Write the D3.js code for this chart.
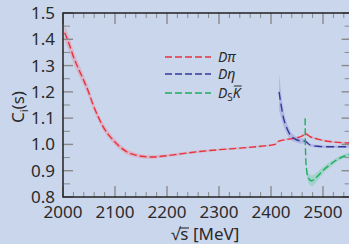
<!DOCTYPE html>
<html>
<head>
<meta charset="utf-8">
<script src="https://cdn.jsdelivr.net/npm/d3@7"></script>
<style>
  body { margin: 0; background: #cad6ec; }
  text { font-family: "Noto Sans", "Open Sans", sans-serif; fill: #2a2a2a; }
</style>
</head>
<body>
<div id="chart"></div>
<script>
// values (sqrt(s) in MeV, C_i)
const dpiE = [2003, 2010, 2020, 2030, 2040, 2050, 2058, 2068, 2077, 2087, 2097, 2110, 2122, 2135, 2150, 2170, 2190, 2230, 2263, 2300, 2340, 2380, 2405, 2411, 2414, 2430, 2449, 2460, 2466, 2475, 2490, 2513, 2555];
const dpiC = [1.425, 1.392, 1.334, 1.287, 1.243, 1.195, 1.150, 1.104, 1.068, 1.038, 1.015, 0.990, 0.973, 0.962, 0.955, 0.952, 0.955, 0.965, 0.973, 0.980, 0.986, 0.993, 0.999, 1.004, 1.012, 1.019, 1.025, 1.032, 1.041, 1.030, 1.020, 1.011, 1.005];
const dpiErr = [0.03, 0.028, 0.025, 0.022, 0.02, 0.018, 0.016, 0.015, 0.014, 0.013, 0.012, 0.011, 0.01, 0.009, 0.008, 0.007, 0.006, 0.005, 0.005, 0.004, 0.004, 0.004, 0.004, 0.004, 0.004, 0.004, 0.004, 0.005, 0.006, 0.005, 0.004, 0.004, 0.004];

const detaE = [2415.5, 2417, 2419, 2423, 2427, 2432, 2437, 2445, 2455, 2462, 2466, 2475, 2490, 2510, 2555];
const detaC = [1.20, 1.18, 1.155, 1.11, 1.08, 1.055, 1.036, 1.022, 1.014, 1.013, 1.012, 0.998, 0.993, 0.991, 0.991];
const detaErr = [0.07, 0.06, 0.05, 0.035, 0.025, 0.02, 0.016, 0.012, 0.01, 0.009, 0.008, 0.006, 0.005, 0.005, 0.005];

const dskE = [2465.6, 2466, 2467, 2469, 2472, 2478, 2490, 2501, 2515, 2526, 2555];
const dskC = [1.10, 1.02, 0.94, 0.895, 0.872, 0.862, 0.880, 0.903, 0.925, 0.941, 0.964];
const dskErr = [0.005, 0.008, 0.012, 0.016, 0.018, 0.02, 0.016, 0.012, 0.01, 0.008, 0.007];

const xTicks = [2000, 2100, 2200, 2300, 2400, 2500];
const yTicks = [0.8, 0.9, 1.0, 1.1, 1.2, 1.3, 1.4, 1.5];

const w = 349, h = 244;
const mLeft = 63, mTop = 13, mBottom = 197;

const x = d3.scaleLinear().domain([2000, 2555]).range([mLeft, mLeft + 555 * 0.52]);
const y = d3.scaleLinear().domain([0.8, 1.5]).range([mBottom, mTop]);
const xRight = x.range()[1];

const svg = d3.select("#chart").append("svg")
  .attr("width", w).attr("height", h);

svg.append("rect").attr("width", w).attr("height", h).attr("fill", "#cad6ec");

const plot = svg.append("g");
plot.append("clipPath").attr("id", "clip")
  .append("rect").attr("x", mLeft).attr("y", mTop)
  .attr("width", xRight - mLeft).attr("height", mBottom - mTop);

const series = [
  {E: dpiE, C: dpiC, err: dpiErr, color: "#e8333d", band: "#e39aae", dash: "7,3"},
  {E: detaE, C: detaC, err: detaErr, color: "#35399a", band: "#9a9fdc", dash: "8,4"},
  {E: dskE, C: dskC, err: dskErr, color: "#1fae5c", band: "#7fd0b0", dash: "7,3"}
];

const line = d3.line().x(d => x(d[0])).y(d => y(d[1])).curve(d3.curveMonotoneX);
const area = d3.area().x(d => x(d[0])).y0(d => y(d[1] - d[2])).y1(d => y(d[1] + d[2])).curve(d3.curveMonotoneX);

const g = plot.append("g").attr("clip-path", "url(#clip)");
series.forEach(s => {
  const pts = s.E.map((e, i) => [e, s.C[i], s.err[i]]);
  g.append("path").datum(pts).attr("d", area)
    .attr("fill", s.band).attr("opacity", 0.55);
});
series.forEach(s => {
  const pts = s.E.map((e, i) => [e, s.C[i]]);
  g.append("path").datum(pts).attr("d", line)
    .attr("fill", "none").attr("stroke", s.color)
    .attr("stroke-width", 1.4).attr("stroke-dasharray", s.dash);
});

// ticks (inward)
const xMinor = d3.range(2000, 2556, 20);
const yMinor = d3.range(0.8, 1.5001, 0.05);
const tickCol = "#8a8a8a";
xMinor.forEach(v => {
  const major = v % 100 === 0;
  const len = major ? 11 : 5;
  [[mBottom, -1], [mTop, 1]].forEach(([y0, dir]) => {
    plot.append("line").attr("x1", x(v)).attr("x2", x(v))
      .attr("y1", y0).attr("y2", y0 + dir * len)
      .attr("stroke", tickCol).attr("stroke-width", major ? 1.4 : 1);
  });
});
yMinor.forEach((v, i) => {
  const major = i % 2 === 0;
  const len = major ? 10 : 7;
  [[mLeft, 1], [xRight, -1]].forEach(([x0, dir]) => {
    plot.append("line").attr("y1", y(v)).attr("y2", y(v))
      .attr("x1", x0).attr("x2", x0 + dir * len)
      .attr("stroke", tickCol).attr("stroke-width", major ? 1.4 : 1);
  });
});

// frame
plot.append("rect").attr("x", mLeft).attr("y", mTop)
  .attr("width", xRight - mLeft).attr("height", mBottom - mTop)
  .attr("fill", "none").attr("stroke", "#222").attr("stroke-width", 1.5);

// tick labels
svg.selectAll(".xl").data(xTicks).enter().append("text")
  .attr("x", d => x(d)).attr("y", 218)
  .attr("text-anchor", "middle").attr("font-size", 17)
  .text(d => d);
svg.selectAll(".yl").data(yTicks).enter().append("text")
  .attr("x", 55).attr("y", d => y(d) + 6)
  .attr("text-anchor", "end").attr("font-size", 17)
  .text(d => d.toFixed(1));

// axis titles
const xt = svg.append("text").attr("x", 171).attr("y", 240)
  .attr("font-size", 17).text("\u221As [MeV]");
const xtNode = xt.node();
const r1 = xtNode.getSubStringLength(0, 1), r2 = xtNode.getSubStringLength(0, 2);
svg.append("line").attr("x1", 171 + r1 - 0.5).attr("x2", 171 + r2 + 0.5)
  .attr("y1", 228).attr("y2", 228)
  .attr("stroke", "#2a2a2a").attr("stroke-width", 1.1);

const yt = svg.append("text").attr("transform", "translate(24,107) rotate(-90)")
  .attr("text-anchor", "middle").attr("font-size", 17);
yt.append("tspan").text("C");
yt.append("tspan").attr("font-size", 11).attr("dy", 4).text("i");
yt.append("tspan").attr("dy", -4).text("(s)");

// legend
const legend = [
  {label: "\u03C0", color: "#e8333d", dash: "7,3", ly: 57},
  {label: "\u03B7", color: "#35399a", dash: "7,3", ly: 74},
  {label: "", color: "#1fae5c", dash: "7,3", ly: 93}
];
legend.forEach((l, i) => {
  svg.append("line").attr("x1", 165).attr("x2", 211).attr("y1", l.ly).attr("y2", l.ly)
    .attr("stroke", l.color).attr("stroke-width", 1.4).attr("stroke-dasharray", l.dash);
  const t = svg.append("text").attr("x", 218).attr("y", l.ly + 5)
    .attr("font-size", 14).attr("font-style", "italic");
  t.append("tspan").text("D");
  if (i < 2) {
    t.append("tspan").text(l.label);
  } else {
    t.append("tspan").attr("font-style", "normal").attr("font-size", 10).attr("dy", 3).text("S");
    const k = t.append("tspan").attr("dy", -3).text("K");
    const tn = t.node();
    const kx0 = 218 + tn.getSubStringLength(0, 2);
    const kx1 = 218 + tn.getSubStringLength(0, 3);
    svg.append("line").attr("x1", kx0 + 1).attr("x2", kx1 + 1)
      .attr("y1", l.ly - 7).attr("y2", l.ly - 7)
      .attr("stroke", "#2a2a2a").attr("stroke-width", 1);
  }
});
</script>
</body>
</html>
